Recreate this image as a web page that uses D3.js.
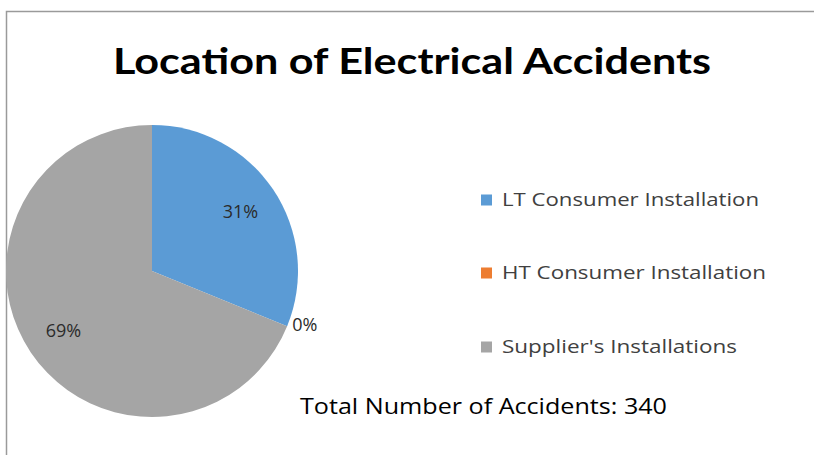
<!DOCTYPE html>
<html>
<head>
<meta charset="utf-8">
<script src="https://cdn.jsdelivr.net/npm/d3@7"></script>
<style>
  html, body { margin: 0; padding: 0; background: #fff; }
  svg { display: block; }
</style>
</head>
<body>
<svg id="chart" width="814" height="455"></svg>
<script>
// Accident counts by location (total 340)
const categories = ["LT Consumer Installation", "HT Consumer Installation", "Supplier's Installations"];
const counts = [106, 0, 234];
const colors = ["#5b9bd5", "#ed7d31", "#a5a5a5"];
const titleText = "Location of Electrical Accidents";
const totalText = "Total Number of Accidents: 340";

const svg = d3.select("#chart");
const W = 814, H = 455;

// chart frame (top and left edges)
svg.append("path")
  .attr("d", `M6.5,${H} V11.5 H${W}`)
  .attr("fill", "none").attr("stroke", "#9a9a9a").attr("stroke-width", 1.5);

svg.append("text")
  .attr("x", 412).attr("y", 74)
  .attr("text-anchor", "middle")
  .attr("font-family", "Lato, 'Open Sans', sans-serif")
  .attr("font-weight", "bold")
  .attr("font-size", 37)
  .attr("fill", "#000")
  .attr("textLength", 598)
  .attr("lengthAdjust", "spacingAndGlyphs")
  .text(titleText);

const cx = 152, cy = 271, r = 146;
const total = d3.sum(counts);
const data = categories.map((c, i) => ({ name: c, value: counts[i], color: colors[i] }));

const pie = d3.pie().value(d => d.value).sort(null);
const arc = d3.arc().innerRadius(0).outerRadius(r);
const arcs = pie(data);

const g = svg.append("g").attr("transform", `translate(${cx},${cy})`);
g.selectAll("path.slice")
  .data(arcs.filter(d => d.data.value > 0))
  .enter().append("path")
  .attr("class", "slice")
  .attr("d", arc)
  .attr("fill", d => d.data.color);

const pct = v => Math.round(v / total * 100) + "%";
const inner = d3.arc().innerRadius(r * 0.73).outerRadius(r * 0.73);
const small = d => d.data.value / total < 0.02;

g.selectAll("text.lbl")
  .data(arcs)
  .enter().append("text")
  .attr("class", "lbl")
  .attr("transform", d => {
    if (small(d)) {
      const a = (d.startAngle + d.endAngle) / 2;
      return `translate(${Math.sin(a) * r},${-Math.cos(a) * r})`;
    }
    const p = inner.centroid(d);
    return `translate(${p[0]},${p[1]})`;
  })
  .attr("text-anchor", d => small(d) ? "start" : "middle")
  .attr("dx", d => small(d) ? 5 : 0)
  .attr("dy", d => small(d) ? "0.25em" : "0.35em")
  .attr("font-family", "'Open Sans', sans-serif")
  .attr("font-size", 18)
  .attr("fill", "#2b2b2b")
  .text(d => pct(d.data.value));

// legend
const legend = svg.append("g").attr("transform", "translate(481,0)");
const rowY = [200, 273, 347];
const textWidths = [257, 264, 235];
const items = legend.selectAll("g.item")
  .data(data)
  .enter().append("g")
  .attr("class", "item")
  .attr("transform", (d, i) => `translate(0,${rowY[i]})`);
items.append("rect")
  .attr("x", 0).attr("y", -5.5)
  .attr("width", 11).attr("height", 11)
  .attr("fill", d => d.color);
items.append("text")
  .attr("x", 21).attr("y", 0)
  .attr("dy", "0.35em")
  .attr("font-family", "'Open Sans', sans-serif")
  .attr("font-size", 17.5)
  .attr("fill", "#404040")
  .attr("textLength", (d, i) => textWidths[i])
  .attr("lengthAdjust", "spacingAndGlyphs")
  .text(d => d.name);

svg.append("text")
  .attr("x", 300).attr("y", 414)
  .attr("font-family", "'Open Sans', sans-serif")
  .attr("font-size", 21.5)
  .attr("fill", "#000")
  .attr("textLength", 367)
  .attr("lengthAdjust", "spacingAndGlyphs")
  .text(totalText);
</script>
</body>
</html>
